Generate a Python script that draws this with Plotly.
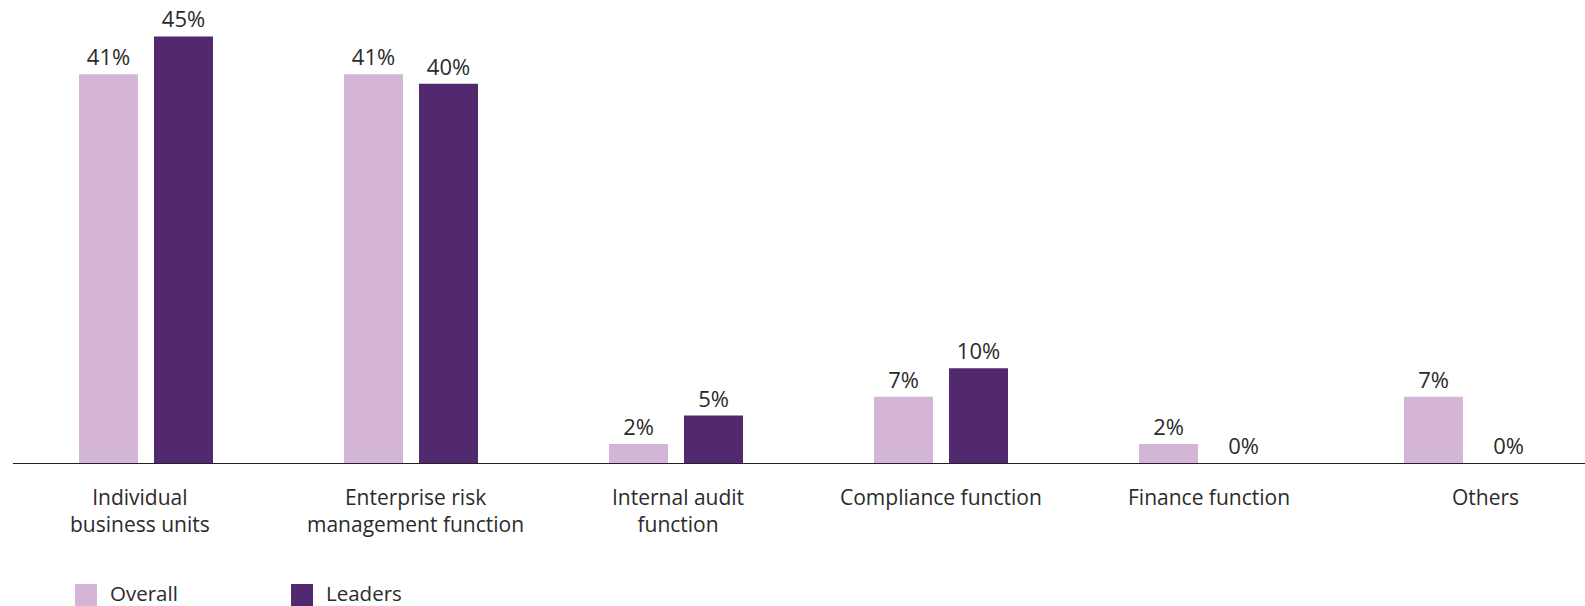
import plotly.graph_objects as go

# Survey data: who owns risk management, overall respondents vs leaders
categories = [
    "Individual<br>business units",
    "Enterprise risk<br>management function",
    "Internal audit<br>function",
    "Compliance function",
    "Finance function",
    "Others",
]
series_names = ["Overall", "Leaders"]
overall = [41, 41, 2, 7, 2, 7]
leaders = [45, 40, 5, 10, 0, 0]

# Styling
LIGHT = "#d4b5d8"
DARK = "#52286f"
TEXT = "#2b2b2b"
FONT = "Open Sans"

W, H = 1585, 606
M_L, M_R, M_T, M_B = 13, 0, 0, 143
PLOT_W = W - M_L - M_R
PLOT_H = H - M_T - M_B
CAT_PX = 265.0          # pixel distance between category centres
PX_PER_UNIT = 9.48      # pixels per percentage point

x_lo = -133.0 / CAT_PX
x_hi = x_lo + PLOT_W / CAT_PX
y_hi = PLOT_H / PX_PER_UNIT

fig = go.Figure()
for name, vals, col in [(series_names[0], overall, LIGHT), (series_names[1], leaders, DARK)]:
    fig.add_trace(go.Bar(
        x=list(range(len(categories))),
        y=vals,
        name=name,
        marker=dict(color=col, line=dict(width=0)),
        text=[f"{v}%" for v in vals],
        textposition="outside",
        constraintext="none",
        textfont=dict(family=FONT, size=22, color=TEXT),
        outsidetextfont=dict(family=FONT, size=22, color=TEXT),
        cliponaxis=False,
        showlegend=False,
    ))

# Category labels under the axis (small per-label horizontal nudges)
label_nudge = [-6, 4, 2, 0, 3, 14]
for i, (cat, dx) in enumerate(zip(categories, label_nudge)):
    fig.add_annotation(
        x=i, xref="x", y=0, yref="paper",
        text=cat, showarrow=False,
        xanchor="center", yanchor="top", align="center",
        xshift=dx, yshift=-18,
        font=dict(family=FONT, size=21, color=TEXT),
    )

# Legend drawn as swatches + text below the chart
def px_x(p):
    return (p - M_L) / PLOT_W

def px_y(p):
    return (M_T + PLOT_H - p) / PLOT_H

for name, col, sx in [(series_names[0], LIGHT, 75), (series_names[1], DARK, 291)]:
    fig.add_shape(
        type="rect", xref="paper", yref="paper",
        x0=px_x(sx), x1=px_x(sx + 22), y0=px_y(584), y1=px_y(606),
        fillcolor=col, line=dict(width=0),
    )
    fig.add_annotation(
        x=px_x(sx + 33), xref="paper", y=px_y(592.5), yref="paper",
        text=name, showarrow=False, xanchor="left", yanchor="middle",
        font=dict(family=FONT, size=20.5, color=TEXT),
    )

fig.update_layout(
    width=W, height=H,
    margin=dict(l=M_L, r=M_R, t=M_T, b=M_B, pad=0),
    paper_bgcolor="white", plot_bgcolor="white",
    barmode="group", bargap=0.434, bargroupgap=0.2133,
    showlegend=False,
    font=dict(family=FONT, color=TEXT),
    xaxis=dict(
        range=[x_lo, x_hi], showticklabels=False, ticks="",
        showgrid=False, zeroline=False,
        showline=True, linecolor="#222222", linewidth=1.2,
    ),
    yaxis=dict(
        range=[0, y_hi], visible=False, showgrid=False, zeroline=False,
    ),
)

fig.write_html("out.html")
